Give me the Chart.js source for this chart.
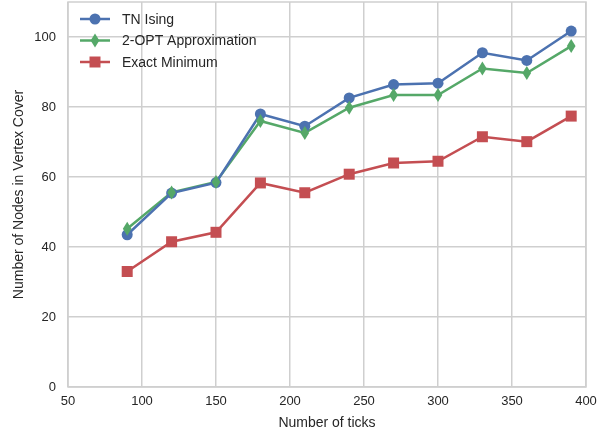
<!DOCTYPE html>
<html>
<head>
<meta charset="utf-8">
<script src="https://cdn.jsdelivr.net/npm/chart.js@4/dist/chart.umd.min.js"></script>
<style>
  html, body { margin: 0; padding: 0; background: #fff; }
  #wrap { width: 613px; height: 434px; }
</style>
</head>
<body>
<div id="wrap"><canvas id="c" width="613" height="434"></canvas></div>
<script>
const ticks = [90, 120, 150, 180, 210, 240, 270, 300, 330, 360, 390];
const tnIsing = [43.5, 55.4, 58.4, 78.0, 74.5, 82.6, 86.4, 86.8, 95.5, 93.3, 101.7];
const twoOpt = [45.2, 55.6, 58.6, 76.0, 72.6, 79.8, 83.4, 83.4, 91.0, 89.7, 97.4];
const exactMin = [33.0, 41.5, 44.2, 58.3, 55.5, 60.8, 64.0, 64.5, 71.5, 70.1, 77.4];
const yTickValues = [0, 20, 40, 60, 80, 100];

const FONT = "'Liberation Sans', Arial, sans-serif";
const GRID = "#cfcfcf";

function pts(arr) {
  return arr.map((v, i) => ({ x: ticks[i], y: v }));
}

// thin diamond like matplotlib's 'd' marker
function thinDiamond(ctx, x, y, r) {
  ctx.beginPath();
  ctx.moveTo(x, y - r);
  ctx.lineTo(x + r * 0.62, y);
  ctx.lineTo(x, y + r);
  ctx.lineTo(x - r * 0.62, y);
  ctx.closePath();
  ctx.fill();
}

function marker(ctx, style, x, y, r) {
  if (style === "diamond") return thinDiamond(ctx, x, y, r);
  ctx.beginPath();
  if (style === "circle") ctx.arc(x, y, r, 0, Math.PI * 2);
  else ctx.rect(x - r, y - r, 2 * r, 2 * r);
  ctx.fill();
}

// markers drawn by hand so the thin diamond shape is possible
const markers = {
  id: "markers",
  afterDatasetsDraw(chart) {
    const ctx = chart.ctx;
    chart.data.datasets.forEach((ds, i) => {
      const meta = chart.getDatasetMeta(i);
      ctx.save();
      ctx.fillStyle = ds.borderColor;
      meta.data.forEach(p => marker(ctx, ds.markerStyle, p.x, p.y, ds.markerSize));
      ctx.restore();
    });
  }
};

// legend drawn inside the plot, upper left (line + marker like matplotlib)
const insideLegend = {
  id: "insideLegend",
  afterDatasetsDraw(chart) {
    const ctx = chart.ctx;
    const a = chart.chartArea;
    chart.data.datasets.forEach((ds, i) => {
      const y = a.top + 17 + i * 21.5;
      const x0 = a.left + 12;
      ctx.save();
      ctx.strokeStyle = ds.borderColor;
      ctx.lineWidth = 2.5;
      ctx.beginPath();
      ctx.moveTo(x0, y);
      ctx.lineTo(x0 + 30, y);
      ctx.stroke();
      ctx.fillStyle = ds.borderColor;
      marker(ctx, ds.markerStyle, x0 + 15, y, ds.markerSize);
      ctx.fillStyle = "#262626";
      ctx.font = "14px " + FONT;
      ctx.textBaseline = "middle";
      ctx.textAlign = "left";
      ctx.fillText(ds.label, x0 + 42, y + 1);
      ctx.restore();
    });
  }
};

const frame = {
  id: "frame",
  beforeDatasetsDraw(chart) {
    const a = chart.chartArea;
    const ctx = chart.ctx;
    ctx.save();
    ctx.strokeStyle = GRID;
    ctx.lineWidth = 1.5;
    ctx.strokeRect(a.left, a.top, a.right - a.left, a.bottom - a.top);
    ctx.restore();
  }
};

function series(label, data, color, style, r) {
  return {
    label,
    data: pts(data),
    borderColor: color,
    backgroundColor: color,
    borderWidth: 2.5,
    pointRadius: 0,
    markerStyle: style,
    markerSize: r,
    tension: 0
  };
}

new Chart(document.getElementById("c"), {
  type: "line",
  data: {
    datasets: [
      series("TN Ising", tnIsing, "#4C72B0", "circle", 5.5),
      series("2-OPT Approximation", twoOpt, "#55A868", "diamond", 7),
      series("Exact Minimum", exactMin, "#C44E52", "square", 5.5)
    ]
  },
  options: {
    responsive: false,
    animation: false,
    clip: false,
    layout: { padding: { top: 2, right: 27, left: 0, bottom: 0 } },
    plugins: { legend: { display: false }, tooltip: { enabled: false } },
    scales: {
      x: {
        type: "linear",
        min: 50,
        max: 400,
        ticks: { stepSize: 50, color: "#262626", font: { family: FONT, size: 13 }, padding: 7 },
        grid: { color: GRID, lineWidth: 1.5, drawTicks: false },
        border: { display: false },
        title: { display: true, text: "Number of ticks", color: "#262626", font: { family: FONT, size: 14 }, padding: { top: 4, bottom: 2 } },
        afterFit(s) { s.height = 47; s.paddingLeft = 0; s.paddingRight = 0; }
      },
      y: {
        min: 0,
        max: 110,
        afterBuildTicks(s) { s.ticks = yTickValues.map(v => ({ value: v })); },
        ticks: { color: "#262626", font: { family: FONT, size: 13 }, padding: 12 },
        grid: { color: GRID, lineWidth: 1.5, drawTicks: false },
        border: { display: false },
        title: { display: true, text: "Number of Nodes in Vertex Cover", color: "#262626", font: { family: FONT, size: 14 }, padding: { top: 11, bottom: 4 } },
        afterFit(s) { s.width = 68; s.paddingTop = 0; s.paddingBottom = 0; }
      }
    }
  },
  plugins: [frame, markers, insideLegend]
});
</script>
</body>
</html>
